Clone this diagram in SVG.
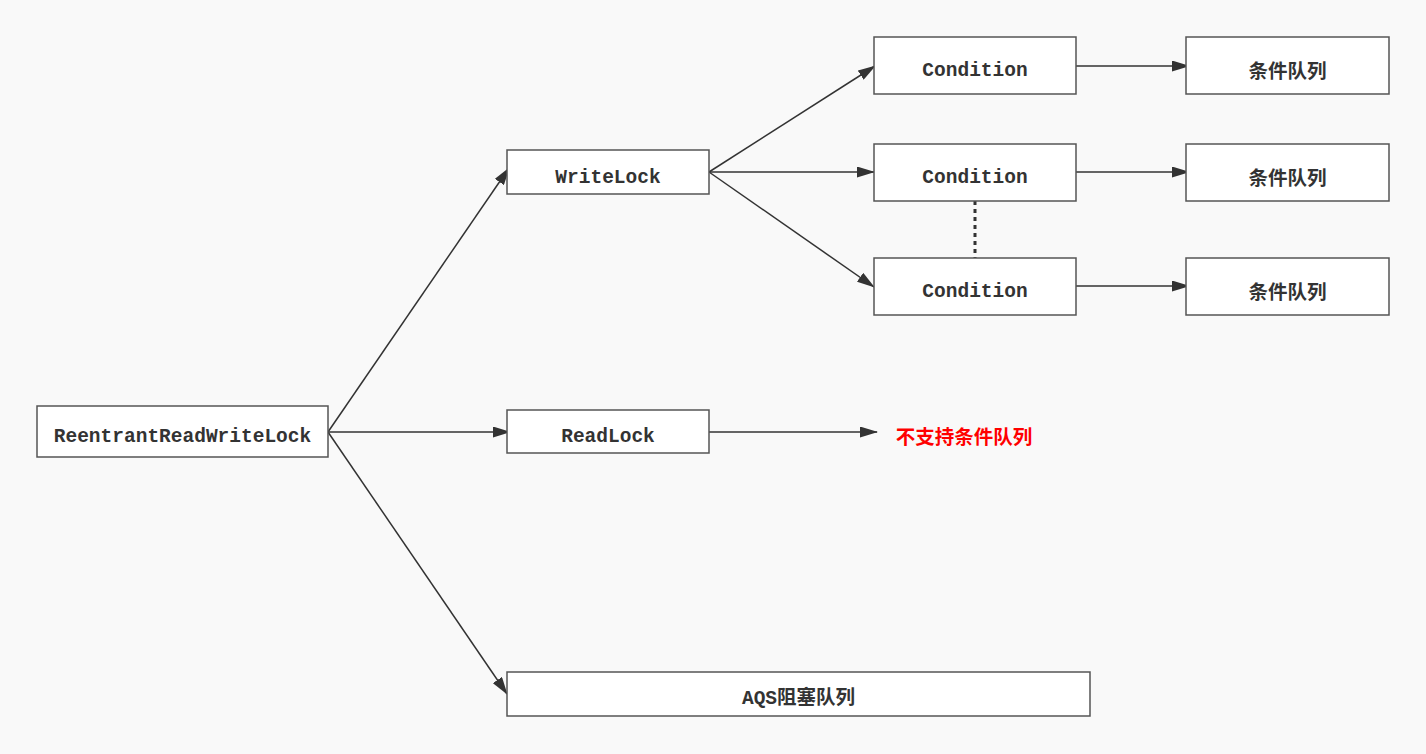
<svg xmlns="http://www.w3.org/2000/svg" width="1426" height="754" viewBox="0 0 1426 754">
<style>
.box{fill:#fff;stroke:#555;stroke-width:1.5}
.t{font-family:"Liberation Mono","Noto Sans CJK SC",monospace;font-weight:bold;font-size:19.5px;fill:#333;text-anchor:middle;dominant-baseline:central}
.c{font-family:"Noto Sans CJK SC",sans-serif;font-weight:bold;font-size:19.5px;fill:#333;text-anchor:middle;dominant-baseline:central}
.e{stroke:#333;stroke-width:1.5;fill:none}
</style>
<defs>
<marker id="a" viewBox="0 0 18 11" refX="17" refY="5.5" markerWidth="18" markerHeight="11" markerUnits="userSpaceOnUse" orient="auto"><path d="M0,0L18,5.5L0,11z" fill="#333"/></marker>
</defs>
<rect width="1426" height="754" fill="#f9f9f9"/>
<g id="connectors">
<path class="e" d="M328,432L509,168" marker-end="url(#a)"/>
<path class="e" d="M328,432L510,432" marker-end="url(#a)"/>
<path class="e" d="M328,432L507,694" marker-end="url(#a)"/>
<path class="e" d="M709,172L875,66" marker-end="url(#a)"/>
<path class="e" d="M709,172L874,172" marker-end="url(#a)"/>
<path class="e" d="M709,172L874,287" marker-end="url(#a)"/>
<path class="e" d="M1076,66L1189,66" marker-end="url(#a)"/>
<path class="e" d="M1076,172L1189,172" marker-end="url(#a)"/>
<path class="e" d="M1076,286L1189,286" marker-end="url(#a)"/>
<path class="e" d="M709,432L877,432" marker-end="url(#a)"/>
<path d="M975,201L975,258" stroke="#333" stroke-width="3" stroke-dasharray="4,4"/>
</g>
<g id="rrwl"><rect class="box" x="37" y="406" width="291" height="51"/><text class="t" x="182.5" y="437">ReentrantReadWriteLock</text></g>
<g id="writelock"><rect class="box" x="507" y="150" width="202" height="44"/><text class="t" x="608" y="178">WriteLock</text></g>
<g id="readlock"><rect class="box" x="507" y="410" width="202" height="43"/><text class="t" x="608" y="437">ReadLock</text></g>
<g id="aqs"><rect class="box" x="507" y="672" width="583" height="44"/><text class="t" x="798.5" y="699">AQS阻塞队列</text></g>
<g id="cond1"><rect class="box" x="874" y="37" width="202" height="57"/><text class="t" x="975" y="71">Condition</text></g>
<g id="cond2"><rect class="box" x="874" y="144" width="202" height="57"/><text class="t" x="975" y="178">Condition</text></g>
<g id="cond3"><rect class="box" x="874" y="258" width="202" height="57"/><text class="t" x="975" y="292">Condition</text></g>
<g id="q1"><rect class="box" x="1186" y="37" width="203" height="57"/><text class="c" x="1287.5" y="69">条件队列</text></g>
<g id="q2"><rect class="box" x="1186" y="144" width="203" height="57"/><text class="c" x="1287.5" y="176">条件队列</text></g>
<g id="q3"><rect class="box" x="1186" y="258" width="203" height="57"/><text class="c" x="1287.5" y="290">条件队列</text></g>
<g id="nosupport"><text class="c" x="964" y="435" style="fill:#f00">不支持条件队列</text></g>
</svg>
